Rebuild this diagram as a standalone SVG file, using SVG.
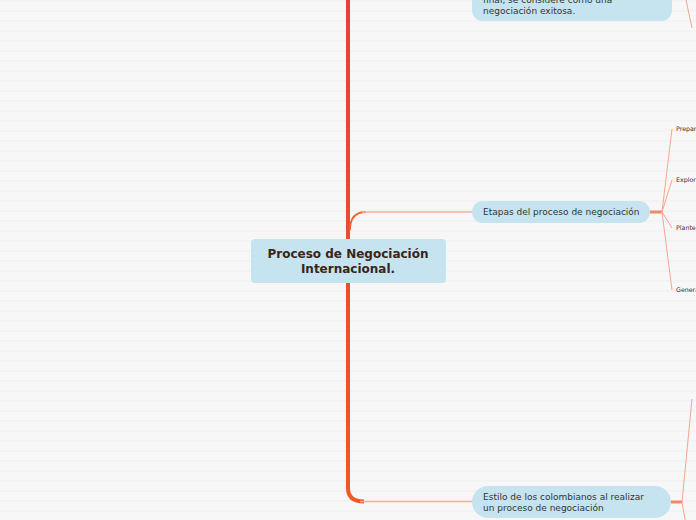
<svg xmlns="http://www.w3.org/2000/svg" width="696" height="520" viewBox="0 0 696 520">
<defs>
<pattern id="bg" width="10" height="10" patternUnits="userSpaceOnUse">
<rect width="10" height="10" fill="#f7f7f7"/>
<rect y="0.5" width="10" height="1" fill="#efefef"/>
</pattern>
<linearGradient id="trunk" x1="0" y1="0" x2="0" y2="520" gradientUnits="userSpaceOnUse">
<stop offset="0" stop-color="#e8403a"/>
<stop offset="1" stop-color="#f05a24"/>
</linearGradient>
<style>
.node{fill:#c5e4ef}
.t{font-family:"DejaVu Sans",Verdana,sans-serif;font-size:9px;fill:#333}
.leaf{font-family:"DejaVu Sans",Verdana,sans-serif;font-size:6.3px;fill:#333}
.main{font-family:"DejaVu Sans",Verdana,sans-serif;font-size:12px;font-weight:bold;fill:#3b2417;text-anchor:middle}
.thin{fill:none;stroke:#f6a68c;stroke-width:1}
.stub{fill:none;stroke:#f08a66;stroke-width:3}
</style>
</defs>
<rect width="696" height="520" fill="url(#bg)"/>
<g id="connectors">
<path d="M348,0 V488 Q348,501.5 364,501.5" fill="none" stroke="url(#trunk)" stroke-width="4"/>
<path d="M350,230 Q350,212 366,212" fill="none" stroke="#f0642e" stroke-width="1.8"/>
<path d="M362,212 H472" fill="none" stroke="#f6b19b" stroke-width="1.3"/>
<path d="M360,501.5 H472" fill="none" stroke="#f6b19b" stroke-width="1.5"/>
<path d="M650,212 H662" class="stub"/>
<path d="M662,212 L672,129 M662,212 L672,180 M662,212 L672,228 M662,212 L672,290" class="thin"/>
<path d="M671,502 H682" class="stub"/>
<path d="M682,502 L692,399 M682,502 L686,525" class="thin"/>
<path d="M685,-5 L692,28" class="thin"/>
</g>
<g id="node-top">
<rect class="node" x="472" y="-22" width="200" height="43" rx="11"/>
<text class="t" x="483" y="3">final, se considere como una</text>
<text class="t" x="483" y="14">negociación exitosa.</text>
</g>
<g id="node-center">
<rect class="node" x="251" y="239" width="195" height="44" rx="4"/>
<text class="main" x="348" y="258">Proceso de Negociación</text>
<text class="main" x="348" y="273">Internacional.</text>
</g>
<g id="node-etapas">
<rect class="node" x="472" y="201" width="178" height="22" rx="11"/>
<text class="t" x="483" y="215">Etapas del proceso de negociación</text>
</g>
<g id="leaf-1"><text class="leaf" x="676" y="131">Prepar</text></g>
<g id="leaf-2"><text class="leaf" x="676" y="182">Explor</text></g>
<g id="leaf-3"><text class="leaf" x="676" y="230">Plante</text></g>
<g id="leaf-4"><text class="leaf" x="676" y="292">Genera</text></g>
<g id="node-estilo">
<rect class="node" x="472" y="486" width="199" height="32" rx="16"/>
<text class="t" x="483" y="500">Estilo de los colombianos al realizar</text>
<text class="t" x="483" y="511">un proceso de negociación</text>
</g>
</svg>
